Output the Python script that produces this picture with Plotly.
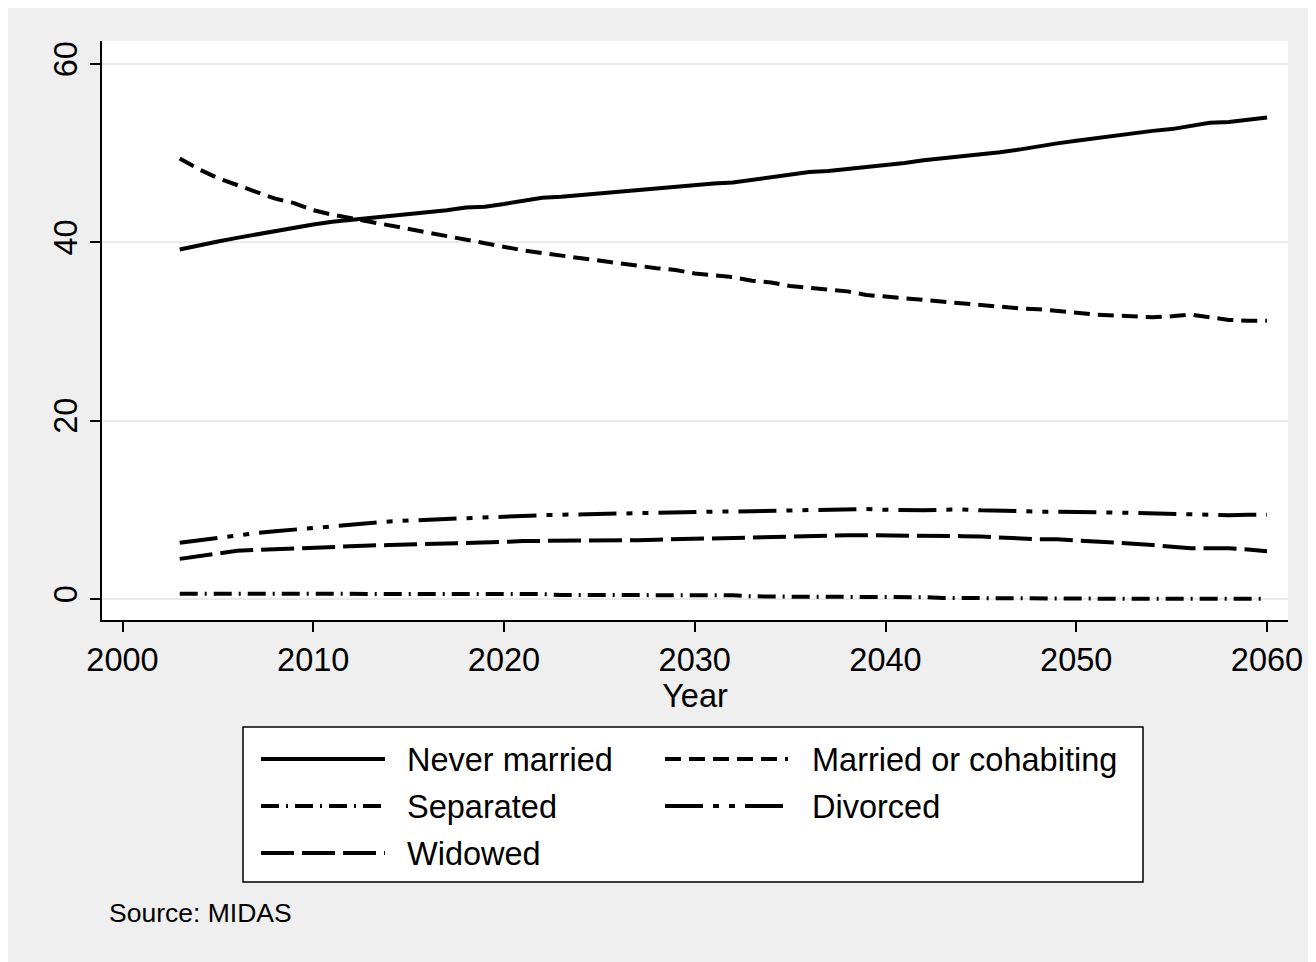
import plotly.graph_objects as go

years = list(range(2003, 2061))

never_married = [39.2, 39.7, 40.1, 40.5, 40.9, 41.3, 41.6, 42.0, 42.3, 42.5,
                 42.7, 42.9, 43.2, 43.4, 43.6, 43.9, 44.0, 44.3, 44.7, 45.0,
                 45.1, 45.3, 45.5, 45.7, 45.8, 46.0, 46.2, 46.4, 46.6, 46.7,
                 47.0, 47.3, 47.6, 47.9, 48.0, 48.2, 48.4, 48.6, 48.9, 49.2,
                 49.4, 49.6, 49.8, 50.1, 50.4, 50.8, 51.1, 51.4, 51.7, 52.0,
                 52.3, 52.5, 52.7, 53.0, 53.4, 53.5, 53.8, 54.0]

married = [49.4, 48.2, 47.2, 46.4, 45.7, 44.9, 44.4, 43.6, 43.1, 42.7,
           42.3, 41.8, 41.5, 41.0, 40.6, 40.2, 39.9, 39.5, 39.1, 38.8,
           38.5, 38.3, 37.9, 37.6, 37.4, 37.1, 36.9, 36.5, 36.3, 36.1,
           35.7, 35.5, 35.1, 34.9, 34.7, 34.5, 34.1, 33.9, 33.7, 33.5,
           33.3, 33.1, 33.0, 32.8, 32.6, 32.5, 32.3, 32.0, 31.9, 31.8,
           31.7, 31.6, 31.7, 31.9, 31.6, 31.3, 31.2, 31.2]

separated = [0.6, 0.6, 0.6, 0.6, 0.6, 0.6, 0.6, 0.6, 0.6, 0.55,
             0.55, 0.55, 0.55, 0.55, 0.55, 0.55, 0.55, 0.55, 0.55, 0.55,
             0.45, 0.45, 0.45, 0.45, 0.45, 0.45, 0.45, 0.45, 0.45, 0.42,
             0.3, 0.25, 0.25, 0.25, 0.25, 0.25, 0.25, 0.25, 0.22, 0.2,
             0.12, 0.1, 0.1, 0.1, 0.1, 0.05, 0.02, 0.02, 0.02, 0.02,
             0.02, 0.02, 0.02, 0.02, 0.02, 0.02, 0.02, 0.02]

divorced = [6.3, 6.6, 6.9, 7.2, 7.4, 7.6, 7.8, 8.0, 8.2, 8.4,
            8.5, 8.7, 8.8, 8.9, 8.95, 9.0, 9.1, 9.2, 9.3, 9.4,
            9.45, 9.5, 9.6, 9.6, 9.65, 9.7, 9.75, 9.8, 9.8, 9.8,
            9.85, 9.85, 9.9, 9.9, 9.95, 10.0, 10.1, 10.0, 9.95, 9.95,
            10.0, 10.05, 9.95, 9.85, 9.85, 9.8, 9.8, 9.8, 9.8, 9.7,
            9.65, 9.6, 9.5, 9.5, 9.45, 9.4, 9.45, 9.45]

widowed = [4.5, 4.8, 5.1, 5.4, 5.5, 5.6, 5.7, 5.75, 5.8, 5.9,
           6.0, 6.05, 6.1, 6.1, 6.15, 6.2, 6.3, 6.4, 6.5, 6.5,
           6.55, 6.6, 6.6, 6.6, 6.6, 6.65, 6.7, 6.75, 6.85, 6.9,
           6.9, 6.95, 7.1, 7.15, 7.15, 7.15, 7.15, 7.15, 7.1, 7.05,
           7.05, 7.05, 7.0, 6.9, 6.75, 6.7, 6.7, 6.6, 6.5, 6.35,
           6.2, 6.05, 5.85, 5.7, 5.7, 5.7, 5.55, 5.35]

x_ticks = [2000, 2010, 2020, 2030, 2040, 2050, 2060]
y_ticks = [0, 20, 40, 60]

series_names = ["Never married", "Married or cohabiting", "Separated", "Divorced", "Widowed"]
series_values = [never_married, married, separated, divorced, widowed]
dashes = ["solid", "16px,8px", "18px,7px,2px,7px", "38px,10px,6px,10px,6px,10px", "33px,8px"]

FONT = "Liberation Sans, Arial, sans-serif"
FS = 32.5
OFF = 8  # page body margin offset
W, H = 1316 - OFF, 962 - OFF
ML, MT = 102 - OFF, 41 - OFF
MR = W - (1288 - OFF)
MB = H - (620 - OFF)
PW, PH = W - ML - MR, H - MT - MB


def px(xp):
    return (xp - OFF - ML) / PW


def py(yp):
    return (H - MB - (yp - OFF)) / PH


fig = go.Figure()
for name, vals, d in zip(series_names, series_values, dashes):
    fig.add_trace(go.Scatter(x=years, y=vals, mode="lines", name=name,
                             line=dict(color="black", width=4, dash=d),
                             showlegend=False))

shapes = []
# legend box
shapes.append(dict(type="rect", xref="paper", yref="paper", x0=px(243), x1=px(1143), y0=py(882), y1=py(727),
                   fillcolor="white", line=dict(color="black", width=1.5)))
annotations = []
cols = [(261, 385, 405), (665, 788, 810)]
rows = [759, 806, 853]
for i, (name, d) in enumerate(zip(series_names, dashes)):
    c = cols[i % 2]
    r = rows[i // 2]
    shapes.append(dict(type="line", xref="paper", yref="paper", x0=px(c[0]), x1=px(c[1]), y0=py(r), y1=py(r),
                       line=dict(color="black", width=4, dash=d)))
    annotations.append(dict(xref="paper", yref="paper", x=px(c[2]), y=py(r + 1), text=name, showarrow=False,
                            xanchor="left", yanchor="middle", font=dict(family=FONT, size=FS, color="black")))

annotations.append(dict(xref="paper", yref="paper", x=px(107), y=py(913), text="Source: MIDAS", showarrow=False,
                        xanchor="left", yanchor="middle", font=dict(family=FONT, size=26.5, color="black")))

fig.update_layout(
    width=W, height=H,
    margin=dict(l=ML, r=MR, t=MT, b=MB, autoexpand=False),
    paper_bgcolor="#efefef", plot_bgcolor="white",
    font=dict(family=FONT, size=FS, color="black"),
    shapes=shapes, annotations=annotations,
    showlegend=False,
)
fig.update_xaxes(range=[1998.925, 2061.10], tickvals=x_ticks, ticks="outside", ticklen=10, tickwidth=2,
                 tickcolor="black", showline=True, linecolor="black", linewidth=2, showgrid=False,
                 zeroline=False, title=dict(text="Year", font=dict(size=FS), standoff=0),
                 tickfont=dict(size=FS))
fig.update_yaxes(range=[-2.355, 62.58], tickvals=y_ticks, ticks="outside", ticklen=10, tickwidth=2,
                 tickcolor="black", showline=True, linecolor="black", linewidth=2, showgrid=True,
                 gridcolor="#eaeaea", gridwidth=2, zeroline=False, tickangle=-90,
                 tickfont=dict(size=FS))

fig.write_html("out.html")
